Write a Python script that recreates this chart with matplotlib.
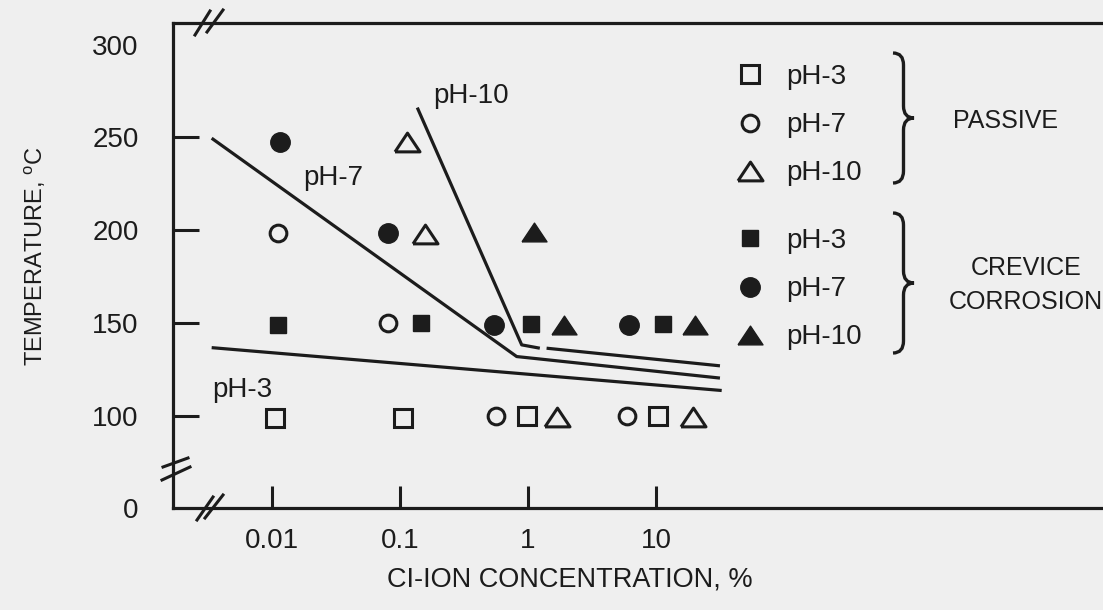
import numpy as np
import matplotlib
matplotlib.use("Agg")
import matplotlib.pyplot as plt
import matplotlib.transforms as mtransforms
from matplotlib import font_manager
from matplotlib.lines import Line2D
from matplotlib.path import Path
from matplotlib.patches import PathPatch
from matplotlib.markers import MarkerStyle

W, H = 1103, 610
BG = "#efefef"
INK = "#1c1c1c"

names = {f.name for f in font_manager.fontManager.ttflist}
if "Liberation Sans Narrow" in names:
    NARROW, NSIZE = "Liberation Sans Narrow", 22
else:
    NARROW, NSIZE = "Liberation Sans", 20
REG = "Liberation Sans"
plt.rcParams["mathtext.fontset"] = "custom"
plt.rcParams["mathtext.rm"] = REG

# data (Cl- ion concentration %, temperature C)
passive_ph3_x = [0.0106, 0.1057, 0.989, 10.42]
passive_ph3_y = [98.6, 98.9, 99.5, 99.5]
passive_ph7_x = [0.0112, 0.0804, 0.564, 5.90]
passive_ph7_y = [198.6, 149.8, 99.5, 99.5]
passive_ph10_x = [0.1133, 0.1574, 1.696, 19.54]
passive_ph10_y = [247.6, 197.9, 99.4, 99.4]

crev_ph3_x = [0.0113, 0.1455, 1.052, 11.40]
crev_ph3_y = [148.8, 150.0, 149.5, 149.2]
crev_ph7_x = [0.0116, 0.0804, 0.547, 6.15]
crev_ph7_y = [247.6, 198.6, 149.0, 149.0]
crev_ph10_x = [1.122, 1.913, 20.16]
crev_ph10_y = [198.8, 149.0, 149.0]

# boundary lines
line_ph3_x = [0.0034, 32.6]
line_ph3_y = [136.6, 113.5]
line_ph7_x = [0.0034, 0.818, 31.6]
line_ph7_y = [249.5, 131.8, 120.2]
line_ph10_x = [0.137, 0.895, 1.24, np.nan, 1.40, 31.6]
line_ph10_y = [266.0, 138.1, 136.3, np.nan, 136.3, 126.8]

xticks = [0.01, 0.1, 1, 10]
xticklabels = ["0.01", "0.1", "1", "10"]
yticks = [50, 100, 150, 200, 250, 300]
yticklabels = ["0", "100", "150", "200", "250", "300"]

fig = plt.figure(figsize=(W / 100, H / 100), dpi=100, facecolor=BG)
ax = fig.add_axes([173.3 / W, 1 - 508.3 / H, 1 - 173.3 / W, (508.3 - 23) / H])
ax.set_facecolor(BG)
ax.set_xscale("log")
ax.set_xlim(0.001706, 10 ** 4.49)
ax.set_ylim(50, 311.6)

tri = MarkerStyle([(-1, -0.75), (1, -0.75), (0, 0.75), (-1, -0.75)], joinstyle="miter")

for xs, ys in [(line_ph3_x, line_ph3_y), (line_ph7_x, line_ph7_y), (line_ph10_x, line_ph10_y)]:
    ax.plot(xs, ys, color=INK, lw=2.3, solid_capstyle="butt")

open_kw = dict(ls="none", mfc="none", mec=INK, mew=2.2)
fill_kw = dict(ls="none", mfc=INK, mec=INK, mew=1)
h1 = ax.plot(passive_ph3_x, passive_ph3_y, marker="s", ms=13, label="pH-3", **open_kw)[0]
h2 = ax.plot(passive_ph7_x, passive_ph7_y, marker="o", ms=12, label="pH-7", **open_kw)[0]
h3 = ax.plot(passive_ph10_x, passive_ph10_y, marker=tri, ms=18, label="pH-10", **open_kw)[0]
h4 = ax.plot(crev_ph3_x, crev_ph3_y, marker="s", ms=12, label="pH-3", **fill_kw)[0]
h5 = ax.plot(crev_ph7_x, crev_ph7_y, marker="o", ms=14, label="pH-7", **fill_kw)[0]
h6 = ax.plot(crev_ph10_x, crev_ph10_y, marker=tri, ms=18, label="pH-10", **fill_kw)[0]

# line labels
txt = dict(fontsize=NSIZE, family=NARROW, color=INK, va="center")
ax.text(0.0176, 228, "pH-7", **txt)
ax.text(0.1815, 272, "pH-10", **txt)
ax.text(0.00342, 114, "pH-3", **txt)

# axes styling
for s in ["top", "bottom", "left"]:
    ax.spines[s].set_linewidth(2.3)
    ax.spines[s].set_color(INK)
ax.spines["right"].set_visible(False)

ax.set_xticks(xticks)
ax.set_xticklabels(xticklabels)
ax.xaxis.set_minor_locator(matplotlib.ticker.NullLocator())
ax.set_yticks(yticks)
ax.set_yticklabels(yticklabels)
ax.tick_params(axis="x", direction="in", length=16, width=2.2, color=INK, pad=14,
               labelsize=NSIZE, labelcolor=INK, top=False)
ax.tick_params(axis="y", direction="in", length=19, width=2.2, color=INK, pad=25,
               labelsize=NSIZE, labelcolor=INK, right=False)
for lab in ax.get_xticklabels() + ax.get_yticklabels():
    lab.set_family(NARROW)
ticks = ax.yaxis.get_major_ticks()
ticks[0].tick1line.set_visible(False)
ticks[-1].tick1line.set_visible(False)

ax.set_xlabel("CI-ION CONCENTRATION, %", fontsize=19.5, family=REG, color=INK, va="center")
ax.xaxis.set_label_coords((570 - 173.3) / (W - 173.3), (508.3 - 580) / 485.3)
ax.set_ylabel("TEMPERATURE, $^{\\mathrm{o}}$C", fontsize=17, family=REG, color=INK, va="center")
ax.yaxis.set_label_coords((35 - 173.3) / (W - 173.3), (508.3 - 256) / 485.3)

# legends
leg_kw = dict(frameon=False, loc="upper left", bbox_transform=fig.transFigure,
              prop={"family": NARROW, "size": NSIZE}, labelcolor=INK, borderpad=0,
              borderaxespad=0, handlelength=1.1, handletextpad=0.75, labelspacing=0.8,
              markerscale=1.0)
leg1 = ax.legend(handles=[h1, h2, h3], bbox_to_anchor=(734.8 / W, 1 - 64 / H), **leg_kw)
ax.add_artist(leg1)
leg2 = ax.legend(handles=[h4, h5, h6], bbox_to_anchor=(734.8 / W, 1 - 228 / H), **leg_kw)

# pixel-from-top transform for decorations
px = mtransforms.Affine2D().scale(1 / W, -1 / H).translate(0, 1) + fig.transFigure


def brace(x0, top, bot, w):
    mid = (top + bot) / 2
    r = 12
    xm = x0 + w * 0.5
    verts = [(x0, top), (xm, top), (xm, top + r), (xm, mid - r), (xm, mid), (x0 + w, mid),
             (xm, mid), (xm, mid + r), (xm, bot - r), (xm, bot), (x0, bot)]
    codes = [Path.MOVETO, Path.CURVE3, Path.CURVE3, Path.LINETO, Path.CURVE3, Path.CURVE3,
             Path.CURVE3, Path.CURVE3, Path.LINETO, Path.CURVE3, Path.CURVE3]
    fig.add_artist(PathPatch(Path(verts, codes), transform=px, fill=False, ec=INK, lw=2.4))


brace(893, 53, 183, 21)
brace(893, 213, 353, 21)
lbl = dict(fontsize=18, family=REG, color=INK, ha="center", va="center")
fig.text(1006 / W, 1 - 121 / H, "PASSIVE", **lbl)
fig.text(1026 / W, 1 - 268 / H, "CREVICE", **lbl)
fig.text(1026 / W, 1 - 302 / H, "CORROSION", **lbl)

# axis break marks
for (x0, y0, x1, y1) in [(195, 35, 210, 11), (207, 32, 223, 10),
                         (197, 520, 213, 497), (205, 518, 223, 495),
                         (163, 467, 188, 458), (162, 480, 190, 467)]:
    fig.add_artist(Line2D([x0, x1], [y0, y1], transform=px, color=INK, lw=2.2))

fig.savefig("out.png", dpi=100, facecolor=BG)
